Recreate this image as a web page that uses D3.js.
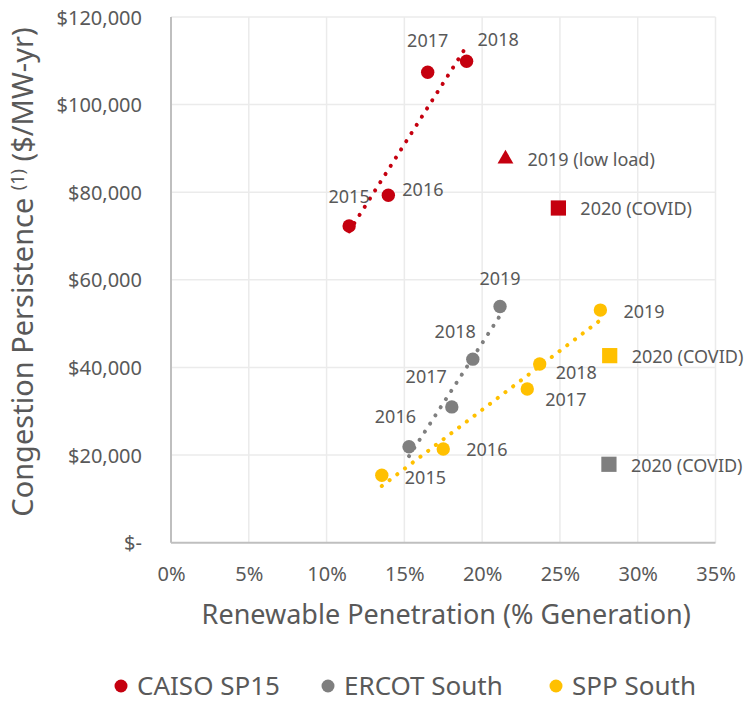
<!DOCTYPE html>
<html>
<head>
<meta charset="utf-8">
<script src="https://cdn.jsdelivr.net/npm/d3@7"></script>
<style>
  body { margin: 0; background: #fff; font-family: "Noto Sans", "Open Sans", sans-serif; }
  #chart text { fill: #595959; }
</style>
</head>
<body>
<div id="chart"></div>
<script>
// ---- data (x = renewable share %, y = $/MW-yr) ----
const caisoYears = ['2015', '2016', '2017', '2018'];
const caisoX = [11.45, 13.97, 16.5, 19.0];
const caisoY = [72300, 79300, 107400, 109900];

const ercotYears = ['2016', '2017', '2018', '2019'];
const ercotX = [15.3, 18.05, 19.4, 21.15];
const ercotY = [21900, 31000, 41900, 53900];

const sppYears = ['2015', '2016', '2017', '2018', '2019'];
const sppX = [13.55, 17.5, 22.9, 23.7, 27.6];
const sppY = [15400, 21400, 35100, 40800, 53100];

// outliers (not part of the trend lines)
const outlierLabels = ['2019 (low load)', '2020 (COVID)', '2020 (COVID)', '2020 (COVID)'];
const outlierSeries = ['caiso', 'caiso', 'ercot', 'spp'];
const outlierShape = ['triangle', 'square', 'square', 'square'];
const outlierX = [21.5, 24.9, 28.15, 28.2];
const outlierY = [87600, 76400, 17900, 42700];

const xTicks = [0, 5, 10, 15, 20, 25, 30, 35];
const yTicks = [0, 20000, 40000, 60000, 80000, 100000, 120000];

const seriesNames = ['CAISO SP15', 'ERCOT South', 'SPP South'];
const seriesKeys = ['caiso', 'ercot', 'spp'];

// label placement per point (dx, dy relative to marker, anchor)
const caisoLabelPos = [[0, -29, 'middle'], [14, -6, 'start'], [0, -31, 'middle'], [11, -22, 'start']];
const ercotLabelPos = [[7, -30, 'end'], [-5, -30, 'end'], [3, -27, 'end'], [0, -28, 'middle']];
const sppLabelPos = [[23, 2, 'start'], [23, 1, 'start'], [18, 11, 'start'], [16, 9, 'start'], [23, 2, 'start']];

const colors = { caiso: '#C5000F', ercot: '#7F7F7F', spp: '#FFC000' };

// ---- layout ----
const W = 750, H = 703;
const margin = { top: 17, right: 34.5, bottom: 160.3, left: 171 };
const width = W - margin.left - margin.right;
const height = H - margin.top - margin.bottom;

const svg = d3.select('#chart').append('svg')
    .attr('width', W)
    .attr('height', H);

const g = svg.append('g')
    .attr('transform', `translate(${margin.left},${margin.top})`);

const x = d3.scaleLinear().domain([0, 35]).range([0, width]);
const y = d3.scaleLinear().domain([0, 120000]).range([height, 0]);

// grid
g.append('g')
    .selectAll('line')
    .data(xTicks.slice(1))
    .enter().append('line')
    .attr('x1', d => x(d)).attr('x2', d => x(d))
    .attr('y1', 0).attr('y2', height)
    .attr('stroke', '#ebebeb').attr('stroke-width', 1.5);

g.append('g')
    .selectAll('line')
    .data(yTicks.slice(1))
    .enter().append('line')
    .attr('x1', 0).attr('x2', width)
    .attr('y1', d => y(d)).attr('y2', d => y(d))
    .attr('stroke', '#ebebeb').attr('stroke-width', 1.5);

// axes
const xAxis = g.append('g')
    .attr('transform', `translate(0,${height})`)
    .call(d3.axisBottom(x).tickValues(xTicks).tickSize(0).tickPadding(24).tickFormat(d => d + '%'));
const yAxis = g.append('g')
    .call(d3.axisLeft(y).tickValues(yTicks).tickSize(0).tickPadding(29)
        .tickFormat(d => d === 0 ? '$-' : '$' + d3.format(',')(d)));

[xAxis, yAxis].forEach(a => {
    a.select('.domain').attr('stroke', '#bfbfbf').attr('stroke-width', 2);
    a.selectAll('text').style('font-size', '20px').style('font-family', '"Noto Sans", sans-serif');
});
yAxis.selectAll('text').attr('dy', '0.35em');
yAxis.select('.domain').attr('d', `M0,${height}V0`);
xAxis.select('.domain').attr('d', `M0,0H${width}`);

// axis titles
svg.append('text')
    .attr('x', margin.left + width / 2 + 3)
    .attr('y', 624)
    .attr('text-anchor', 'middle')
    .style('font-size', '27px')
    .text('Renewable Penetration (% Generation)');

const yTitle = svg.append('text')
    .attr('transform', `translate(33, 272) rotate(-90)`)
    .attr('text-anchor', 'middle')
    .style('font-size', '29px');
yTitle.append('tspan').text('Congestion Persistence ');
yTitle.append('tspan').style('font-size', '18px').attr('dy', '-9').text('(1)');
yTitle.append('tspan').attr('dy', '9').text(' ($/MW-yr)');

// series
const series = [
    { key: 'caiso', years: caisoYears, xs: caisoX, ys: caisoY, pos: caisoLabelPos },
    { key: 'ercot', years: ercotYears, xs: ercotX, ys: ercotY, pos: ercotLabelPos },
    { key: 'spp', years: sppYears, xs: sppX, ys: sppY, pos: sppLabelPos }
];

// linear trend lines (least squares, spanning the x range of each series)
series.forEach(s => {
    const mx = d3.mean(s.xs), my = d3.mean(s.ys);
    const sxy = d3.sum(s.xs, (v, i) => (v - mx) * (s.ys[i] - my));
    const sxx = d3.sum(s.xs, v => (v - mx) * (v - mx));
    const slope = sxy / sxx, icpt = my - slope * mx;
    const [x0, x1] = d3.extent(s.xs);
    g.append('line')
        .attr('x1', x(x0)).attr('y1', y(icpt + slope * x0))
        .attr('x2', x(x1)).attr('y2', y(icpt + slope * x1))
        .attr('stroke', colors[s.key])
        .attr('stroke-width', 4)
        .attr('stroke-linecap', 'round')
        .attr('stroke-dasharray', '0.1 9.6');
});

series.forEach(s => {
    const pts = s.xs.map((v, i) => ({ x: v, y: s.ys[i], label: s.years[i], pos: s.pos[i] }));
    g.selectAll(null).data(pts).enter().append('circle')
        .attr('cx', d => x(d.x)).attr('cy', d => y(d.y))
        .attr('r', 6.7)
        .attr('fill', colors[s.key]);
    g.selectAll(null).data(pts).enter().append('text')
        .attr('x', d => x(d.x) + d.pos[0])
        .attr('y', d => y(d.y) + d.pos[1])
        .attr('dy', '0.35em')
        .attr('text-anchor', d => d.pos[2])
        .style('font-size', '18px')
        .text(d => d.label);
});

// outliers
const outliers = outlierX.map((v, i) => ({
    x: v, y: outlierY[i], label: outlierLabels[i], key: outlierSeries[i], shape: outlierShape[i]
}));
const sym = d3.symbol();
g.selectAll(null).data(outliers).enter().append('path')
    .attr('transform', d => `translate(${x(d.x)},${y(d.y)})`)
    .attr('d', d => d.shape === 'triangle'
        ? sym.type(d3.symbolTriangle2).size(180)()
        : sym.type(d3.symbolSquare2).size(295)())
    .attr('fill', d => colors[d.key]);
g.selectAll(null).data(outliers).enter().append('text')
    .attr('x', d => x(d.x) + 22)
    .attr('y', d => y(d.y) + 1)
    .attr('dy', '0.35em')
    .style('font-size', '18px')
    .text(d => d.label);

// legend
const legendX = [121, 328, 556];
const legend = svg.append('g').attr('transform', 'translate(0, 686)');
seriesKeys.forEach((k, i) => {
    const row = legend.append('g').attr('transform', `translate(${legendX[i]},0)`);
    row.append('circle').attr('r', 6.5).attr('fill', colors[k]);
    row.append('text')
        .attr('x', 16)
        .attr('dy', '0.35em')
        .style('font-size', '26px')
        .text(seriesNames[i]);
});
</script>
</body>
</html>
